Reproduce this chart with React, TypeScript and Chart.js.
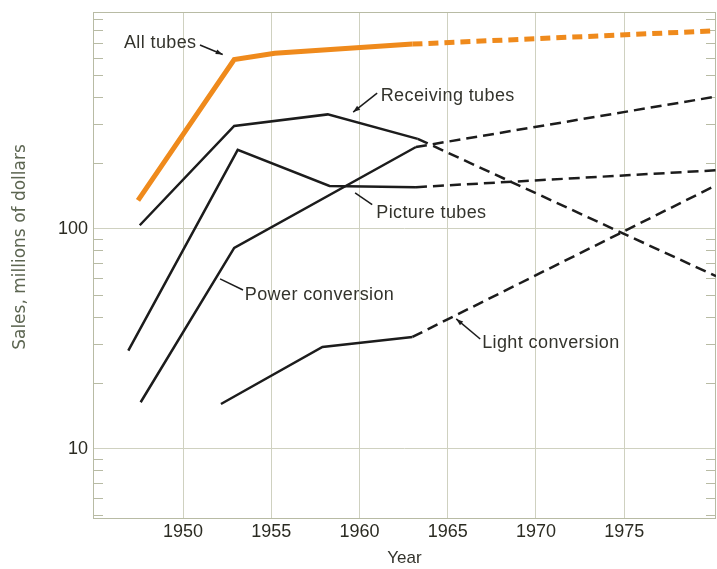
import React, { useEffect, useRef } from "react";
import { Chart, registerables } from "chart.js";

Chart.register(...registerables);

// ---- axes ----
const xMin = 1944.9;
const xMax = 1980.2;
const xTicks = [1950, 1955, 1960, 1965, 1970, 1975];
const yMin = 4.8;
const yMax = 970;
const yTicks = [10, 100];
const yMinorTicks = [5, 6, 7, 8, 9, 20, 30, 40, 50, 60, 70, 80, 90, 200, 300, 400, 500, 600, 700, 800, 900];

// ---- series (millions of dollars) ----
const allTubesYears = [1947.45, 1952.9, 1955.2, 1963.0];
const allTubesValues = [135, 590, 630, 693];
const allTubesProjYears = [1963.0, 1980.2];
const allTubesProjValues = [693, 797];

const receivingYears = [1947.55, 1952.9, 1958.2, 1963.3];
const receivingValues = [104, 294, 332, 257];
const receivingProjYears = [1963.3, 1980.2];
const receivingProjValues = [257, 61];

const pictureYears = [1946.9, 1953.1, 1958.3, 1963.2];
const pictureValues = [28, 229, 157, 155];
const pictureProjYears = [1963.2, 1980.2];
const pictureProjValues = [155, 185];

const powerYears = [1947.6, 1952.9, 1963.2];
const powerValues = [16.3, 82, 236];
const powerProjYears = [1963.2, 1980.2];
const powerProjValues = [236, 400];

const lightYears = [1952.15, 1957.9, 1963.0];
const lightValues = [16, 29.1, 32.3];
const lightProjYears = [1963.0, 1980.2];
const lightProjValues = [32.3, 158];

// ---- labels with leader lines (data coordinates) ----
const noteTexts = ["All tubes", "Receiving tubes", "Picture tubes", "Power conversion", "Light conversion"];
const noteTextX = [1946.65, 1961.2, 1960.95, 1953.5, 1966.95];
const noteTextY = [700, 402, 118, 50.1, 30.3];
const noteFromX = [1950.96, 1961.0, 1960.72, 1953.4, 1966.84];
const noteFromY = [687, 415, 129, 52.8, 31.6];
const noteToX = [1952.25, 1959.64, 1959.75, 1952.1, 1965.48];
const noteToY = [622, 340, 146, 59.3, 39.0];
const noteArrow = [true, true, false, false, true];

const ORANGE = "#ef8a1c";
const INK = "#1c1c1c";
const GRID = "#cfd1c0";
const FRAME = "#b8bba4";
const FONT = "'Liberation Sans', Arial, sans-serif";

function pts(xs: number[], ys: number[]) {
  return xs.map((x, i) => ({ x, y: ys[i] }));
}

function line(label: string, xs: number[], ys: number[], color: string, width: number, dashed: boolean) {
  return {
    label,
    data: pts(xs, ys),
    borderColor: color,
    backgroundColor: color,
    borderWidth: width,
    borderDash: dashed ? (width > 3 ? [10, 6] : [11, 6]) : [],
    borderCapStyle: "butt" as const,
    borderJoinStyle: "miter" as const,
    pointRadius: 0,
    tension: 0,
    fill: false,
  };
}

const decorPlugin = {
  id: "decor",
  beforeDatasetsDraw(chart: any) {
    const { ctx, chartArea } = chart;
    const y = chart.scales.y;
    ctx.save();
    ctx.strokeStyle = FRAME;
    ctx.lineWidth = 1;
    ctx.strokeRect(chartArea.left + 0.5, chartArea.top + 0.5, chartArea.right - chartArea.left - 1, chartArea.bottom - chartArea.top - 1);
    ctx.beginPath();
    for (const v of yMinorTicks) {
      const py = Math.round(y.getPixelForValue(v)) + 0.5;
      ctx.moveTo(chartArea.left, py);
      ctx.lineTo(chartArea.left + 10, py);
      ctx.moveTo(chartArea.right, py);
      ctx.lineTo(chartArea.right - 10, py);
    }
    ctx.stroke();
    ctx.restore();
  },
  afterDatasetsDraw(chart: any) {
    const { ctx } = chart;
    const xs = chart.scales.x;
    const ys = chart.scales.y;
    ctx.save();
    ctx.font = `18px ${FONT}`;
    try {
      (ctx as any).letterSpacing = "0.4px";
    } catch (e) {}
    ctx.textAlign = "left";
    ctx.textBaseline = "middle";
    noteTexts.forEach((t, i) => {
      ctx.fillStyle = "#33332c";
      ctx.fillText(t, xs.getPixelForValue(noteTextX[i]), ys.getPixelForValue(noteTextY[i]));
      const x1 = xs.getPixelForValue(noteFromX[i]);
      const y1 = ys.getPixelForValue(noteFromY[i]);
      const x2 = xs.getPixelForValue(noteToX[i]);
      const y2 = ys.getPixelForValue(noteToY[i]);
      ctx.strokeStyle = INK;
      ctx.lineWidth = 1.5;
      ctx.beginPath();
      ctx.moveTo(x1, y1);
      ctx.lineTo(x2, y2);
      ctx.stroke();
      if (noteArrow[i]) {
        const a = Math.atan2(y2 - y1, x2 - x1);
        const L = 7;
        const W = 2.5;
        ctx.fillStyle = INK;
        ctx.beginPath();
        ctx.moveTo(x2, y2);
        ctx.lineTo(x2 - L * Math.cos(a) + W * Math.sin(a), y2 - L * Math.sin(a) - W * Math.cos(a));
        ctx.lineTo(x2 - L * Math.cos(a) - W * Math.sin(a), y2 - L * Math.sin(a) + W * Math.cos(a));
        ctx.closePath();
        ctx.fill();
      }
    });
    try {
      (ctx as any).letterSpacing = "0px";
    } catch (e) {}
    // y-axis title
    ctx.save();
    ctx.translate(20.5, 247);
    ctx.rotate(-Math.PI / 2);
    ctx.font = `17px 'DejaVu Sans', ${FONT}`;
    ctx.fillStyle = "#5d6652";
    ctx.textAlign = "center";
    ctx.textBaseline = "middle";
    ctx.fillText("Sales, millions of dollars", 0, 0);
    ctx.restore();
    ctx.restore();
  },
};

export default function App() {
  const ref = useRef<HTMLCanvasElement | null>(null);

  useEffect(() => {
    document.body.style.margin = "0";
    if (!ref.current) return;
    const chart = new Chart(ref.current, {
      type: "line",
      data: {
        datasets: [
          line("All tubes", allTubesYears, allTubesValues, ORANGE, 5, false),
          line("All tubes (projected)", allTubesProjYears, allTubesProjValues, ORANGE, 5, true),
          line("Receiving tubes", receivingYears, receivingValues, INK, 2.5, false),
          line("Receiving tubes (projected)", receivingProjYears, receivingProjValues, INK, 2.5, true),
          line("Picture tubes", pictureYears, pictureValues, INK, 2.5, false),
          line("Picture tubes (projected)", pictureProjYears, pictureProjValues, INK, 2.5, true),
          line("Power conversion", powerYears, powerValues, INK, 2.5, false),
          line("Power conversion (projected)", powerProjYears, powerProjValues, INK, 2.5, true),
          line("Light conversion", lightYears, lightValues, INK, 2.5, false),
          line("Light conversion (projected)", lightProjYears, lightProjValues, INK, 2.5, true),
        ],
      },
      options: {
        animation: false,
        responsive: true,
        maintainAspectRatio: false,
        layout: { padding: { top: 12, right: 1, left: 0, bottom: 0 } },
        plugins: { legend: { display: false }, tooltip: { enabled: false } },
        scales: {
          x: {
            type: "linear",
            min: xMin,
            max: xMax,
            afterBuildTicks: (axis: any) => {
              axis.ticks = xTicks.map((v) => ({ value: v }));
            },
            afterFit: (axis: any) => {
              axis.height = 50;
              axis.paddingLeft = 0;
              axis.paddingRight = 0;
            },
            ticks: {
              autoSkip: false,
              maxRotation: 0,
              padding: 2,
              color: "#2b2b22",
              font: { family: FONT, size: 18 },
              callback: (v: any) => String(v),
            },
            grid: { color: GRID, lineWidth: 1, drawTicks: false },
            border: { display: false },
            title: {
              display: true,
              text: "Year",
              color: "#33332c",
              font: { family: FONT, size: 17 },
              padding: { top: 0, bottom: 0 },
            },
          },
          y: {
            type: "logarithmic",
            min: yMin,
            max: yMax,
            afterBuildTicks: (axis: any) => {
              axis.ticks = yTicks.map((v) => ({ value: v }));
            },
            afterFit: (axis: any) => {
              axis.width = 93;
              axis.paddingTop = 0;
              axis.paddingBottom = 0;
            },
            ticks: {
              padding: 5,
              color: "#2b2b22",
              font: { family: FONT, size: 18 },
              callback: (v: any) => String(v),
            },
            grid: { color: GRID, lineWidth: 1, drawTicks: false },
            border: { display: false },
          },
        },
      },
      plugins: [decorPlugin],
    });
    return () => chart.destroy();
  }, []);

  return (
    <div style={{ width: 717, height: 569, position: "relative" }}>
      <canvas ref={ref} />
    </div>
  );
}
